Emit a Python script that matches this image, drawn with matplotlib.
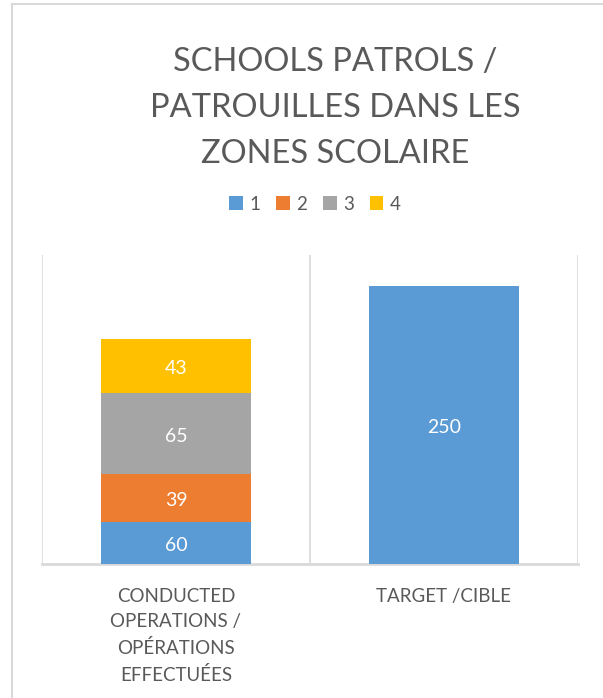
import matplotlib
matplotlib.use("Agg")
import matplotlib.pyplot as plt
from matplotlib.patches import Patch
from matplotlib.lines import Line2D
import numpy as np

plt.rcParams['font.family'] = ['Lato', 'DejaVu Sans']

categories = ["CONDUCTED\nOPERATIONS /\nOPÉRATIONS\nEFFECTUÉES", "TARGET /CIBLE"]
series_names = ["1", "2", "3", "4"]
series_values = [
    [60, 250],
    [39, 0],
    [65, 0],
    [43, 0],
]
colors = ["#5B9BD5", "#ED7D31", "#A5A5A5", "#FFC000"]
title = "SCHOOLS PATROLS /\nPATROUILLES DANS LES\nZONES SCOLAIRE"

W, H = 603, 698
fig = plt.figure(figsize=(W / 100, H / 100), dpi=100)

# plot area in pixels
L, R, T, B = 42, 578, 255, 564
ax = fig.add_axes([L / W, 1 - B / H, (R - L) / W, (B - T) / H])

YMIN, YMAX = 26.5, 274.7
x = np.arange(len(categories))
bottom = np.zeros(len(categories))
for name, vals, c in zip(series_names, series_values, colors):
    vals = np.array(vals, dtype=float)
    bars = ax.bar(x, vals, width=0.56, bottom=bottom, color=c, label=name, zorder=3)
    for b, v, y0 in zip(bars, vals, bottom):
        if v > 0:
            lo = max(y0, YMIN)
            ymid = (lo + y0 + v) / 2
            ax.annotate(f"{int(v)}", (b.get_x() + b.get_width() / 2, ymid),
                        xytext=(0, -2), textcoords='offset points',
                        ha='center', va='center', color='white', fontsize=14, zorder=4)
    bottom += vals

ax.set_xlim(-0.5, 1.5)
ax.set_ylim(YMIN, YMAX)
for xv in [-0.5, 0.5, 1.5]:
    ax.axvline(xv, color='#D9D9D9', lw=1.2, zorder=1)
ax.set_yticks([])
ax.set_xticks(x)
ax.set_xticklabels(categories, color='#595959', fontsize=13.5, linespacing=1.6)
ax.tick_params(axis='x', length=0, pad=17)
for s in ['top', 'left', 'right']:
    ax.spines[s].set_visible(False)
ax.spines['bottom'].set_color('#D9D9D9')
ax.spines['bottom'].set_linewidth(2)

fig.text(335 / W, 1 - 47 / H, title, ha='center', va='top', color='#595959',
         fontsize=23.5, linespacing=1.66)

handles = [Patch(facecolor=c, edgecolor='none') for c in colors]
fig.legend(handles, series_names, loc='center', bbox_to_anchor=(315 / W, 1 - 204 / H),
           ncol=4, frameon=False, fontsize=13.5, handlelength=0.72, handleheight=0.72,
           handletextpad=0.35, columnspacing=0.85, labelcolor='#595959')

# chart border (top and left visible)
fig.add_artist(Line2D([12 / W, 1], [1 - 4 / H, 1 - 4 / H], color='#D9D9D9', lw=1.5))
fig.add_artist(Line2D([12 / W, 12 / W], [0, 1 - 4 / H], color='#D9D9D9', lw=1.5))

fig.savefig("out.png", dpi=100, facecolor='white')
